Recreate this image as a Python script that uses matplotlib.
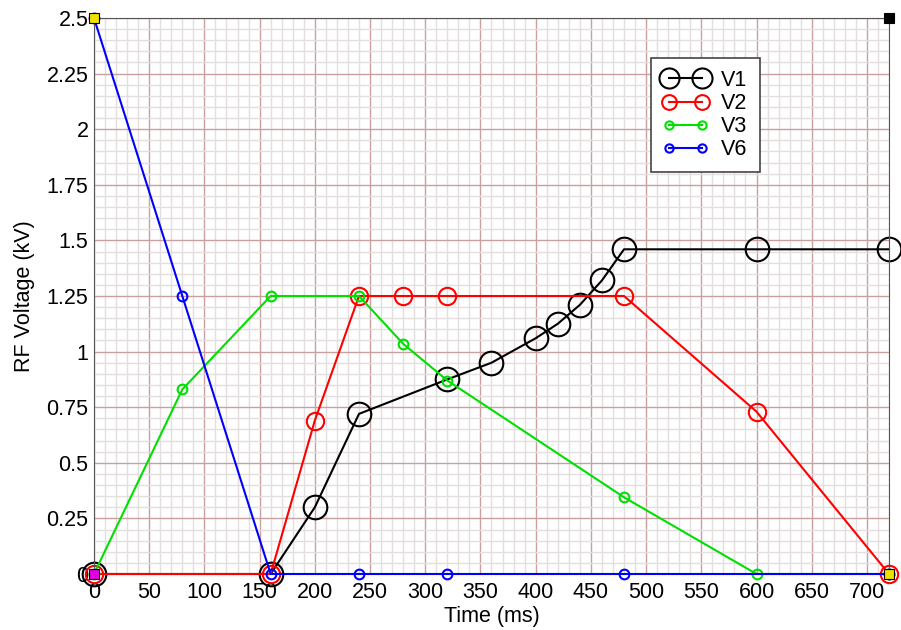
import numpy as np
import matplotlib.pyplot as plt
from matplotlib.ticker import MultipleLocator

plt.rcParams['font.family'] = ['Liberation Sans', 'DejaVu Sans']

# data
t_v1 = [0, 160, 200, 240, 320, 360, 400, 420, 440, 460, 480, 600, 720]
v1 = [0, 0, 0.30, 0.72, 0.875, 0.95, 1.06, 1.125, 1.21, 1.32, 1.46, 1.46, 1.46]
t_v2 = [0, 160, 200, 240, 280, 320, 480, 600, 720]
v2 = [0, 0, 0.69, 1.25, 1.25, 1.25, 1.25, 0.73, 0]
t_v3 = [0, 80, 160, 240, 280, 320, 480, 600, 720]
v3 = [0, 0.83, 1.25, 1.25, 1.035, 0.87, 0.345, 0, 0]
t_v6 = [0, 80, 160, 240, 320, 480, 720]
v6 = [2.5, 1.25, 0, 0, 0, 0, 0]
corner_t = [0, 720, 0, 720]
corner_v = [2.5, 2.5, 0, 0]
corner_c = ['#f0e000', 'black', '#e000e0', '#f0e000']
ytick_vals = [0, 0.25, 0.5, 0.75, 1, 1.25, 1.5, 1.75, 2, 2.25, 2.5]
ytick_text = ['0', '0.25', '0.5', '0.75', '1', '1.25', '1.5', '1.75', '2', '2.25', '2.5']

fs = 15.5

fig = plt.figure(figsize=(9.01, 6.3), dpi=100)
ax = fig.add_axes([0.1043, 0.0889, 0.8824, 0.8825])

ax.plot(t_v1, v1, '-o', color='black', mfc='none', ms=17, mew=1.5, lw=1.5, label='V1', clip_on=False)
ax.plot(t_v2, v2, '-o', color='red', mfc='none', ms=12.5, mew=1.5, lw=1.5, label='V2', clip_on=False)
ax.plot(t_v3, v3, '-o', color='#00e000', mfc='none', ms=7, mew=1.5, lw=1.5, label='V3', clip_on=False)
ax.plot(t_v6, v6, '-o', color='blue', mfc='none', ms=7, mew=1.5, lw=1.5, label='V6', clip_on=False)
for t, v, c in zip(corner_t, corner_v, corner_c):
    ax.plot(t, v, 's', color=c, ms=6.5, mec='black', mew=0.8, clip_on=False, zorder=5)

ax.set_xlim(0, 720)
ax.set_ylim(0, 2.5)
ax.xaxis.set_major_locator(MultipleLocator(50))
ax.xaxis.set_minor_locator(MultipleLocator(10))
ax.yaxis.set_minor_locator(MultipleLocator(0.05))
ax.set_yticks(ytick_vals)
ax.set_yticklabels(ytick_text)
ax.grid(which='minor', color='#e4dede', lw=1)
ax.grid(which='major', color='#c9a0a0', lw=1)
ax.set_axisbelow(True)
ax.tick_params(which='both', length=0, labelsize=fs)
ax.tick_params(axis='x', pad=6)
ax.tick_params(axis='y', pad=4)

for s in ['top', 'right', 'left']:
    ax.spines[s].set_color('#555555')
ax.spines['bottom'].set_visible(False)

ax.set_xlabel('Time (ms)', fontsize=fs, labelpad=2)
ax.set_ylabel('RF Voltage (kV)', fontsize=fs, labelpad=8)

leg = ax.legend(loc='upper left', bbox_to_anchor=(0.70, 0.928), fancybox=False,
                edgecolor='#444444', fontsize=fs, framealpha=1, borderpad=0.55,
                numpoints=2, markerscale=0.85, handlelength=2.14, handletextpad=0.6,
                labelspacing=0.1, borderaxespad=0)
leg.get_frame().set_linewidth(1.2)

fig.savefig('out.png', dpi=100)
